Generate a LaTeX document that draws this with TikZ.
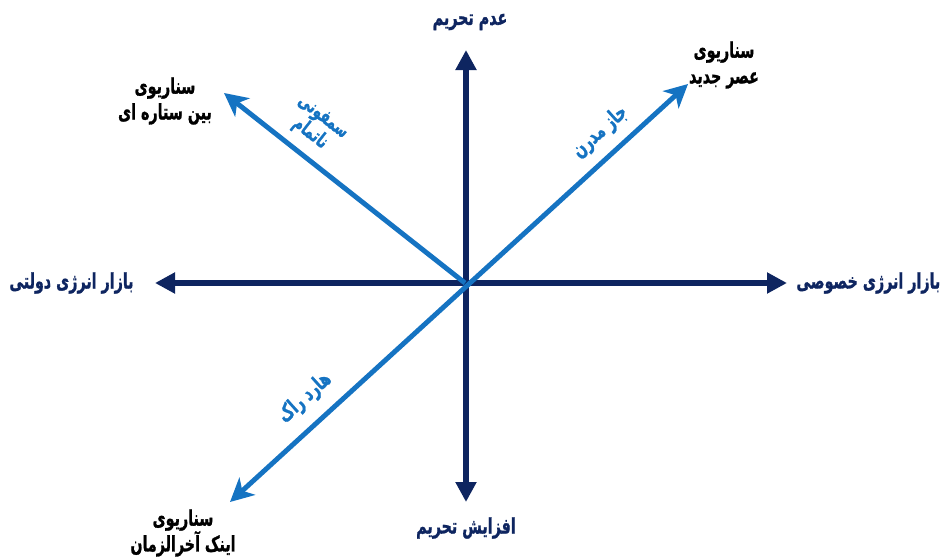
\documentclass[tikz,border=0pt]{standalone}
\usepackage{fontspec}
\usepackage{tikz}
\usetikzlibrary{arrows.meta}
\newfontfamily\arabicfont[Script=Arabic, FakeBold=1.3]{DejaVu Sans Bold}
\TeXXeTstate=1
\newcommand{\fatext}[1]{\scalebox{0.87}[1.3]{\beginR #1\endR}}
\definecolor{axisnavy}{HTML}{0E2560}
\definecolor{pathblue}{HTML}{1573C2}

\begin{document}
\begin{tikzpicture}[
  x=0.03cm, y=-0.03cm,
  every node/.style={font=\arabicfont\fontsize{14}{22}\selectfont, align=center, inner sep=1pt},
  axisarr/.style={axisnavy, line width=5pt, {Triangle[length=6mm,width=6mm]}-{Triangle[length=6mm,width=6mm]}},
  patharr/.style={pathblue, line width=4.2pt, -{Stealth[length=7mm,width=7mm,inset=2mm]}},
  axislbl/.style={text=axisnavy},
  pathlbl/.style={text=pathblue},
  scenlbl/.style={text=black}
]
\useasboundingbox (0,0) rectangle (941,558);
\coordinate (O) at (465,283);
\coordinate (n) at (466,50);
\coordinate (s) at (466,502);
\coordinate (w) at (155,283);
\coordinate (e) at (787,283);
\coordinate (ne) at (688,84);
\coordinate (sw) at (230,502);
\coordinate (nw) at (224,93);

\draw[axisarr] (s) -- (n);
\draw[axisarr] (w) -- (e);
\draw[patharr, {Stealth[length=7mm,width=7mm,inset=2mm]}-{Stealth[length=7mm,width=7mm,inset=2mm]}] (sw) -- (ne);
\draw[patharr] (O) -- (nw);

\node[axislbl] (top) at (470,22) {\fatext{عدم تحریم}};
\node[axislbl] (bottom) at (466,528) {\fatext{افزایش تحریم}};
\node[axislbl, anchor=east] (left) at (135,283) {\fatext{بازار انرژی دولتی}};
\node[axislbl, anchor=west] (right) at (795,283) {\fatext{بازار انرژی خصوصی}};

\node[scenlbl] (newage) at (724,65) {\fatext{سناریوی}\\\fatext{عصر جدید}};
\node[scenlbl] (interstellar) at (165,101) {\fatext{سناریوی}\\\fatext{بین ستاره ای}};
\node[scenlbl] (apocalypse) at (183,533) {\fatext{سناریوی}\\\fatext{اینک آخرالزمان}};

\node[pathlbl, rotate=-38, font=\arabicfont\fontsize{13}{16}\selectfont] (symphony) at (316,126) {\fatext{سمفونی}\\\fatext{ناتمام}};
\node[pathlbl, rotate=42] (jazz) at (600,132) {\fatext{جاز مدرن}};
\node[pathlbl, rotate=42] (hardrock) at (305,398) {\fatext{هارد راک}};
\end{tikzpicture}
\end{document}
